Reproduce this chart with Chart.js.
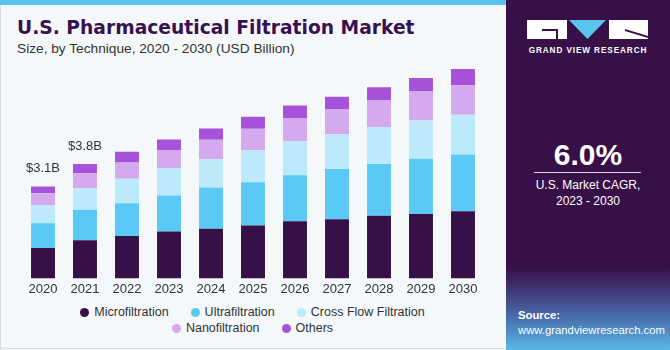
<!DOCTYPE html>
<html>
<head>
<meta charset="utf-8">
<script src="https://cdn.jsdelivr.net/npm/chart.js@4"></script>
<style>
    body { margin: 0; width: 670px; height: 350px; overflow: hidden; background: #f4f8fb; font-family: "Liberation Sans", Arial, sans-serif; }
    #wrap { position: relative; width: 670px; height: 350px; }
    #topbar { position: absolute; left: 0; top: 0; width: 506px; height: 5px; background: #5bc4ee; }
    #frame { position: absolute; left: 0; top: 5px; width: 505px; height: 344px; border-left: 1px solid #d8dde2; border-bottom: 1px solid #d8dde2; box-sizing: border-box; }
    #title { position: absolute; left: 17px; top: 17px; font-family: "DejaVu Sans", sans-serif; font-size: 18.7px; font-weight: bold; color: #3a1150; }
    #subtitle { position: absolute; left: 17px; top: 41px; font-size: 13.7px; color: #333; }
    #chartBox { position: absolute; left: 0; top: 55px; width: 500px; height: 245px; }
    #legend { position: absolute; left: 0; top: 304px; width: 505px; text-align: center; font-size: 12.5px; color: #333; line-height: 16px; }
    #legend .item { display: inline-block; margin: 0 11px; }
    #legend .dot { display: inline-block; width: 9px; height: 9px; border-radius: 50%; margin-right: 5px; vertical-align: -1px; }
    #panel { position: absolute; left: 506px; top: 0; width: 164px; height: 350px;
        background: linear-gradient(to bottom, #371048 0%, #371048 76%, #3d2a66 81%, #4868a8 90%, #5ab8e6 100%); color: #fff; }
    #brand { position: absolute; left: 0; top: 46px; width: 164px; text-align: center; font-size: 8.2px; font-weight: bold; letter-spacing: 0.9px; }
    #cagr { position: absolute; left: 0; top: 138px; width: 164px; text-align: center; font-size: 30px; font-weight: bold; }
    #rule { position: absolute; left: 28px; top: 172px; width: 107px; height: 1px; background: #d8cfe0; }
    #cagrText { position: absolute; left: 0; top: 178px; width: 164px; text-align: center; font-size: 12px; line-height: 15.5px; }
    #source { position: absolute; left: 12px; top: 308px; font-size: 11.3px; line-height: 15px; }
</style>
</head>
<body>
<div id="wrap">
    <div id="frame"></div>
    <div id="topbar"></div>
    <div id="title">U.S. Pharmaceutical Filtration Market</div>
    <div id="subtitle">Size, by Technique, 2020 - 2030 (USD Billion)</div>
    <div id="chartBox"><canvas id="chart"></canvas></div>
    <div id="legend"></div>
    <div id="panel">
        <svg style="position:absolute;left:21px;top:20px" width="121" height="20" viewBox="0 0 121 20">
            <rect x="0" y="0" width="40" height="19" fill="#fff"/>
            <rect x="15" y="9" width="16" height="2" fill="#371048"/>
            <rect x="29" y="9" width="2" height="10" fill="#371048"/>
            <polygon points="42,0 79,0 60.5,19" fill="#5bc4ee"/>
            <rect x="82" y="0" width="39" height="19" fill="#fff"/>
            <polygon points="98,9 121,16 121,18 98,11" fill="#371048"/>
        </svg>
        <div id="brand">GRAND VIEW RESEARCH</div>
        <div id="cagr">6.0%</div>
        <div id="rule"></div>
        <div id="cagrText">U.S. Market CAGR,<br>2023 - 2030</div>
        <div id="source"><b>Source:</b><br>www.grandviewresearch.com</div>
    </div>
</div>
<script>
years = ["2020", "2021", "2022", "2023", "2024", "2025", "2026", "2027", "2028", "2029", "2030"];
microfiltration = [1.02, 1.28, 1.42, 1.57, 1.66, 1.77, 1.91, 1.98, 2.10, 2.16, 2.25];
ultrafiltration = [0.83, 1.02, 1.10, 1.21, 1.38, 1.45, 1.54, 1.68, 1.73, 1.85, 1.90];
crossFlow = [0.60, 0.72, 0.82, 0.92, 0.95, 1.07, 1.14, 1.17, 1.24, 1.28, 1.33];
nanofiltration = [0.40, 0.50, 0.54, 0.60, 0.65, 0.72, 0.76, 0.84, 0.89, 0.97, 0.99];
others = [0.23, 0.31, 0.36, 0.35, 0.38, 0.40, 0.44, 0.41, 0.44, 0.45, 0.54];
totalLabels = ["$3.1B", "$3.8B", "", "", "", "", "", "", "", "", ""];

seriesNames = ["Microfiltration", "Ultrafiltration", "Cross Flow Filtration", "Nanofiltration", "Others"];
seriesValues = [microfiltration, ultrafiltration, crossFlow, nanofiltration, others];
seriesColors = ["#371048", "#5bc9f6", "#bdeafa", "#d4a9ee", "#a652da"];

// labels above the first two bars
totalsPlugin = {
    id: "totals",
    afterDatasetsDraw(chart) {
        var ctx = chart.ctx;
        var x = chart.scales.x, y = chart.scales.y;
        ctx.save();
        ctx.font = "13px 'Liberation Sans', Arial, sans-serif";
        ctx.fillStyle = "#333";
        ctx.textAlign = "center";
        ctx.textBaseline = "middle";
        years.forEach((yr, i) => {
            if (!totalLabels[i]) return;
            var total = seriesValues.reduce((s, arr) => s + arr[i], 0);
            ctx.fillText(totalLabels[i], x.getPixelForValue(i), y.getPixelForValue(total) - 18);
        });
        ctx.restore();
    }
};

drawLegend();
drawChart();

function drawLegend() {
    var legend = document.getElementById("legend");
    var html = "";
    seriesNames.forEach((name, i) => {
        html += '<span class="item"><span class="dot" style="background:' + seriesColors[i] + '"></span>' + name + '</span>';
        if (i == 2) html += '<br>';
    });
    legend.innerHTML = html;
}

function drawChart() {
    return new Chart(document.getElementById("chart"), {
        type: 'bar',
        data: {
            labels: years,
            datasets: seriesNames.map((name, i) => ({
                label: name,
                data: seriesValues[i],
                backgroundColor: seriesColors[i],
                borderWidth: 0,
                barPercentage: 0.57,
                categoryPercentage: 1
            }))
        },
        options: {
            responsive: true,
            maintainAspectRatio: false,
            animation: false,
            layout: { padding: { left: 22, right: 16, top: 3, bottom: 0 } },
            scales: {
                x: {
                    stacked: true,
                    grid: { display: false, drawTicks: false },
                    border: { display: false },
                    ticks: { color: "#333", font: { family: "'Liberation Sans', Arial, sans-serif", size: 13 }, padding: 3 }
                },
                y: {
                    stacked: true,
                    display: false,
                    min: 0,
                    max: 7.38
                }
            },
            plugins: {
                legend: { display: false },
                tooltip: { enabled: false }
            }
        },
        plugins: [totalsPlugin]
    });
}
</script>
</body>
</html>
